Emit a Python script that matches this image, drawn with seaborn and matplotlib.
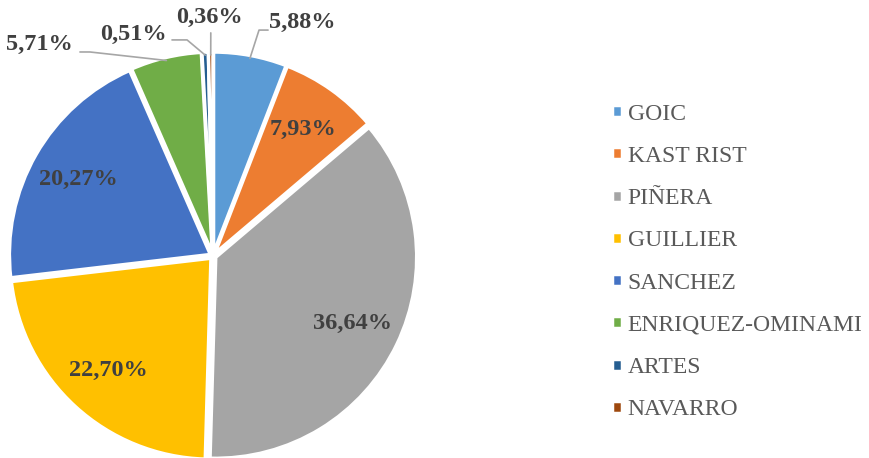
import numpy as np
import matplotlib.pyplot as plt
import seaborn as sns

candidates = ["GOIC", "KAST RIST", "PIÑERA", "GUILLIER", "SANCHEZ",
              "ENRIQUEZ-OMINAMI", "ARTES", "NAVARRO"]
shares = [5.88, 7.93, 36.64, 22.70, 20.27, 5.71, 0.51, 0.36]
colors = ["#5B9BD5", "#ED7D31", "#A5A5A5", "#FFC000", "#4472C4",
          "#70AD47", "#255E91", "#9E480E"]

sns.set_style("white")
plt.rcParams["font.family"] = ["Liberation Serif", "DejaVu Serif"]

fig = plt.figure(figsize=(8.7, 4.58), dpi=100)
# pie centre at (213, 256) px, radius 201 px
ax = fig.add_axes([12 / 870, 1 / 458, 402 / 870, 402 / 458])
wedges, _ = ax.pie(shares, colors=colors, startangle=90, counterclock=False,
                   explode=[0.015] * len(shares),
                   wedgeprops=dict(edgecolor="white", linewidth=2.5))
ax.set_xlim(-1, 1)
ax.set_ylim(-1, 1)
ax.set_aspect("equal")
ax.axis("off")

def fmt(v):
    return f"{v:.2f}%".replace(".", ",")

lab_kw = dict(fontsize=17.5, fontweight="bold", color="#404040", clip_on=False)
line_kw = dict(color="#A6A6A6", lw=1.2, clip_on=False)

# labels inside the large slices
for i in [1, 2, 3, 4]:
    w = wedges[i]
    a = np.deg2rad((w.theta1 + w.theta2) / 2)
    ax.text(0.77 * np.cos(a), 0.77 * np.sin(a), fmt(shares[i]),
            ha="center", va="center", **lab_kw)

# small slices: leader lines (elbow, end) and text anchor
outside = {
    0: ((0.229, 1.124), (0.274, 1.124), (0.28, 1.16, "left")),
    5: ((-0.612, 1.015), (-0.662, 1.015), (-0.70, 1.05, "right")),
    6: ((-0.129, 1.075), (-0.204, 1.075), (-0.23, 1.10, "right")),
    7: ((-0.011, 1.11), (-0.011, 1.11), (-0.02, 1.185, "center")),
}
for i, (elbow, end, (tx, ty, ha)) in outside.items():
    w = wedges[i]
    a = np.deg2rad((w.theta1 + w.theta2) / 2)
    sx, sy = np.cos(a), np.sin(a)
    ax.plot([sx, elbow[0], end[0]], [sy, elbow[1], end[1]], **line_kw)
    ax.text(tx, ty, fmt(shares[i]), ha=ha, va="center", **lab_kw)

fig.legend(wedges, candidates, loc="center left",
           bbox_to_anchor=(591 / 870, (458 - 262) / 458),
           frameon=False, fontsize=17, labelcolor="#595959",
           handlelength=0.4, handleheight=0.4, handletextpad=0.25,
           labelspacing=0.9)

fig.savefig("out.png", dpi=100)
